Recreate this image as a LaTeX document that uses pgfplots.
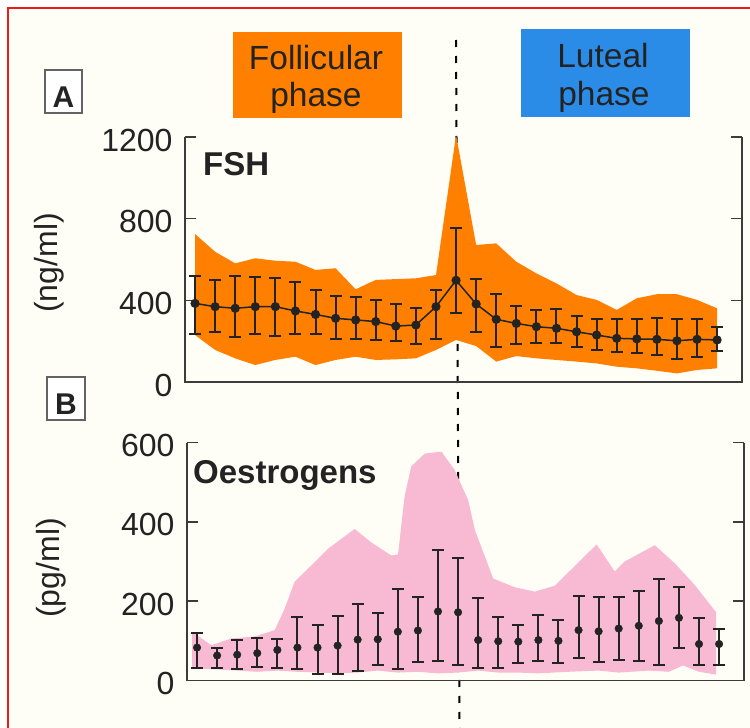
\documentclass[border=0pt]{standalone}
\usepackage{pgfplots}
\pgfplotsset{compat=1.18}
\usepackage{pgfplotstable}
\usepackage{fontspec}
\setmainfont{Liberation Sans}

\definecolor{paper}{RGB}{254,254,246}
\definecolor{frame}{RGB}{236,28,28}
\definecolor{fshband}{RGB}{255,128,0}
\definecolor{oesband}{RGB}{247,186,210}
\definecolor{luteal}{RGB}{42,140,230}
\definecolor{axiscol}{RGB}{60,60,60}
\definecolor{barcol}{RGB}{35,35,35}
\definecolor{txt}{RGB}{35,35,35}

% day index (0 = first day, 13 = LH peak), mean, top and bottom of the bar
\pgfplotstableread{
i m hi lo
0 385 521 235
1 369 500 246
2 361 521 222
3 369 516 235
4 369 508 225
5 348 491 235
6 331 451 235
7 312 423 209
8 304 418 209
9 296 402 206
10 274 382 202
11 279 361 185
12 369 451 209
13 498 756 336
14 382 504 246
15 307 431 173
16 287 374 185
17 271 353 193
18 263 358 193
19 246 323 173
20 230 307 157
21 214 307 149
22 211 307 140
23 209 312 132
24 202 307 111
25 209 307 124
26 206 271 152
}\fshbars

% range of FSH: upper edge left to right, then lower edge back
\pgfplotstableread{
x v
0 725
1 638
2 581
3 606
4 594
5 589
6 549
7 557
8 454
9 500
10 504
11 508
12 524
13 1210
14 671
15 679
16 589
17 532
18 483
19 426
20 402
21 353
22 410
23 430
24 430
25 402
26 361
26 67
25 59
24 42
23 55
22 67
21 75
20 91
19 100
18 108
17 116
16 127
15 100
14 176
13 206
12 157
11 116
10 111
9 108
8 124
7 108
6 83
5 124
4 108
3 83
2 116
1 157
0 230
}\fshrange

\pgfplotstableread{
i m hi lo
0 83 121 31
1 63 82 32
2 65 101 30
3 69 107 35
4 77 105 31
5 83 161 28
6 83 139 17
7 88 162 17
8 103 193 25
9 104 170 39
10 123 231 28
11 126 210 47
12 174 328 50
13 172 308 39
14 102 207 32
15 99 160 31
16 98 141 45
17 102 166 48
18 100 152 44
19 127 213 56
20 124 211 47
21 131 210 51
22 138 226 50
23 150 257 39
24 158 236 83
25 92 157 38
26 92 130 38
}\oesbars

\pgfplotstableread{
x v
-0.25 123
0.71 89
1.71 106
2.87 111
3.87 127
4.37 182
4.86 249
5.69 290
6.52 332
7.85 382
8.68 348
9.68 315
10.01 318
10.34 465
10.67 540
11.34 572
12.17 577
12.83 531
13.5 455
13.84 379
14.75 257
15.83 235
16.82 224
17.82 239
18.82 289
19.9 343
20.8 275
21.3 300
22.8 341
23.8 295
24.8 240
25.85 172
25.85 15
25 22
24.2 38
23.5 22
22.5 25
21 20
20 25
18.5 22
17 18
16 20
15 20
14 25
13 20
12 18
11 22
10 20
9 25
8 20
7 18
6 20
5 22
4 25
3 22
2 25
1 28
0 30
-0.25 30
}\oesrange

\pgfplotsset{
  panel/.style={
    scale only axis, width=557pt,
    xmin=-0.5, xmax=27.24,
    xtick=\empty,
    axis line style={draw=none},
    ytick pos=both, tick align=inside,
    major tick length=11pt,
    tick style={axiscol, line width=1.6pt},
    yticklabel style={font=\fontsize{32}{32}\selectfont, text=txt, xshift=-9pt, yshift=-3pt},
    /pgf/number format/assume math mode=true,
    /pgf/number format/1000 sep={},
    clip=false,
  },
  bars/.style={
    error bars/.cd, y dir=both, y explicit,
    error bar style={line width=2pt, barcol, solid},
    error mark=|,
    error mark options={barcol, mark size=6pt, line width=2pt},
  },
}

\begin{document}
\begin{tikzpicture}
\useasboundingbox (0,0) rectangle (750pt,-728pt);
\fill[white] (0,0) rectangle (750pt,-728pt);
\fill[paper] (8pt,-8pt) rectangle (750pt,-728pt);
\draw[frame, line width=2pt] (8pt,-728pt) -- (8pt,-8pt) -- (750pt,-8pt);

% phase boxes
\fill[fshband] (233pt,-32pt) rectangle (402pt,-118pt);
\fill[luteal] (521pt,-29pt) rectangle (690pt,-117pt);
\begin{scope}[every node/.style={anchor=base, inner sep=0pt, text=txt,
    font=\fontsize{33.5}{33.5}\selectfont}]
  \node at (316pt,-69pt) {Follicular};
  \node at (316pt,-106pt) {phase};
  \node at (603pt,-67pt) {Luteal};
  \node at (604pt,-105pt) {phase};
\end{scope}

% LH peak
\draw[black, line width=2pt, dash pattern=on 7pt off 9pt] (456pt,-40pt) -- (459.5pt,-728pt);

% panel letters
\draw[axiscol!80, line width=1.3pt, fill=white] (45pt,-70pt) rectangle (82pt,-113pt);
\draw[axiscol!80, line width=1.3pt, fill=white] (47pt,-377pt) rectangle (85pt,-420pt);
\node[anchor=base, inner sep=0pt, text=txt, font=\bfseries\fontsize{30}{30}\selectfont] at (63.5pt,-107pt) {A};
\node[anchor=base, inner sep=0pt, text=txt, font=\bfseries\fontsize{30}{30}\selectfont] at (66pt,-414pt) {B};

% units
\node[rotate=90, inner sep=0pt, text=txt, font=\fontsize{32}{32}\selectfont] at (49pt,-263pt) {(ng/ml)};
\node[rotate=90, inner sep=0pt, text=txt, font=\fontsize{32}{32}\selectfont] at (51pt,-568pt) {(pg/ml)};

% A: FSH
\begin{axis}[panel, at={(185pt,-382pt)}, anchor=south west, height=245pt,
  ymin=0, ymax=1200, ytick={0,400,800,1200}]
  \addplot[fill=fshband, draw=none] table[x=x, y=v] {\fshrange};
  \addplot[barcol, line width=1.5pt, mark=*, mark size=3.8pt, bars]
    table[x=i, y=m, y error plus expr=\thisrow{hi}-\thisrow{m},
          y error minus expr=\thisrow{m}-\thisrow{lo}] {\fshbars};
  \draw[axiscol, line width=1.8pt] (rel axis cs:0,1) -- (rel axis cs:0,0)
    -- (rel axis cs:1,0) -- (rel axis cs:1,1);
\end{axis}
\node[anchor=base west, inner sep=0pt, text=txt, font=\bfseries\fontsize{33}{33}\selectfont] at (203pt,-175pt) {FSH};

% B: oestrogens
\begin{axis}[panel, at={(187pt,-680.5pt)}, anchor=south west, height=238pt,
  ymin=0, ymax=600, ytick={0,200,400,600}]
  \addplot[fill=oesband, draw=none] table[x=x, y=v] {\oesrange};
  \addplot[barcol, only marks, mark=*, mark size=3.8pt, bars]
    table[x=i, y=m, y error plus expr=\thisrow{hi}-\thisrow{m},
          y error minus expr=\thisrow{m}-\thisrow{lo}] {\oesbars};
  \draw[axiscol, line width=1.8pt] (rel axis cs:0,1) -- (rel axis cs:0,0)
    -- (rel axis cs:1,0) -- (rel axis cs:1,1);
\end{axis}
\node[anchor=base west, inner sep=0pt, text=txt, font=\bfseries\fontsize{33}{33}\selectfont] at (193pt,-483pt) {Oestrogens};
\end{tikzpicture}
\end{document}
